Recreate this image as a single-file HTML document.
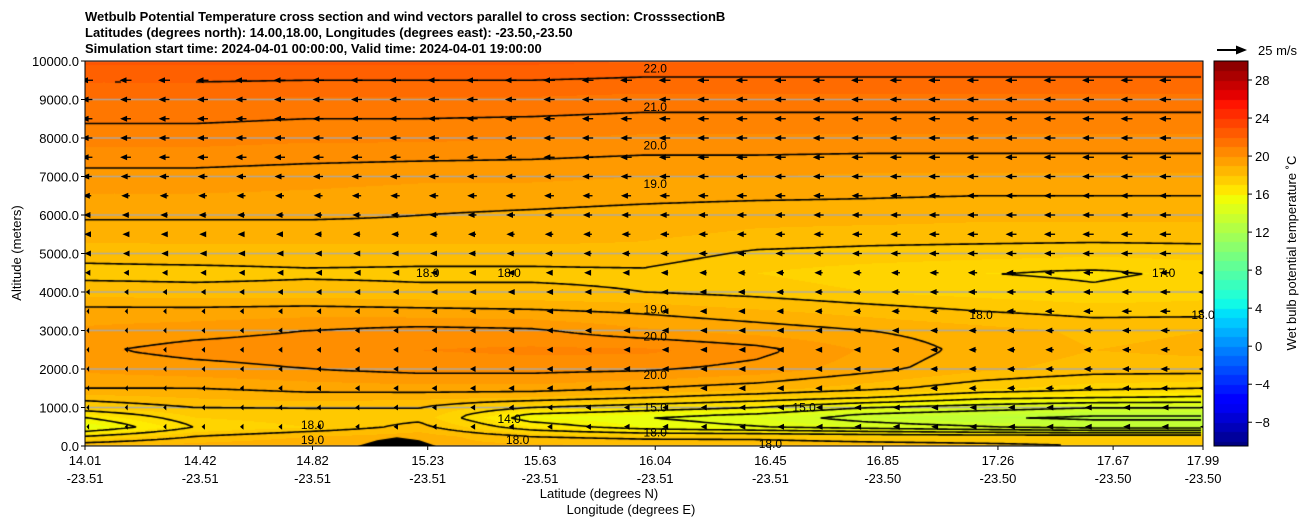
<!DOCTYPE html>
<html><head><meta charset="utf-8">
<style>
body{margin:0;background:#fff;width:1311px;height:526px;overflow:hidden;font-family:"Liberation Sans",sans-serif}
#wrap{position:relative;width:1311px;height:526px}
canvas{position:absolute;left:85px;top:61px}
svg{position:absolute;left:0;top:0}
</style></head><body>
<div id="wrap">
<canvas id="field" width="1118" height="385"></canvas>
<canvas id="cbar" width="34" height="385" style="left:1214px;top:61px"></canvas>
<svg id="svg" width="1311" height="526">
<defs><clipPath id="plotclip"><rect x="85" y="61" width="1118" height="385"/></clipPath></defs>
<text x="85" y="21" font-size="13" font-weight="bold">Wetbulb Potential Temperature cross section and wind vectors parallel to cross section: CrosssectionB</text>
<text x="85" y="37" font-size="13" font-weight="bold">Latitudes (degrees north): 14.00,18.00, Longitudes (degrees east): -23.50,-23.50</text>
<text x="85" y="53" font-size="13" font-weight="bold">Simulation start time: 2024-04-01 00:00:00, Valid time: 2024-04-01 19:00:00</text>
<text x="599" y="498" font-size="13" text-anchor="middle">Latitude (degrees N)</text>
<text x="631" y="514" font-size="13" text-anchor="middle">Longitude (degrees E)</text>
<text transform="translate(21,253) rotate(-90)" font-size="13" text-anchor="middle">Altitude (meters)</text>
<text transform="translate(1296,253) rotate(-90)" font-size="13" text-anchor="middle">Wet bulb potential temperature ˚C</text>
<g><line x1="1217" y1="50" x2="1238" y2="50" stroke="#000" stroke-width="2"/><polygon points="1247,50 1236,45.5 1236,54.5" fill="#000"/><text x="1258" y="55" font-size="13">25 m/s</text></g>
</svg>
</div>
<script>
// ---- data ----
const lats=[14.0,14.4,14.8,15.2,15.6,16.0,16.4,16.8,17.2,17.6,18.0];
const alts=[0,250,500,750,1000,1250,1500,2000,2500,3000,3500,4000,4500,5000,5500,6000,7000,8000,9000,10000];
const temps=[
[18.5,18.8,19.0,18.6,18.7,18.5,18.4,18.3,18.2,18.0,18.0],
[17.0,18.0,18.5,18.8,18.0,17.8,17.8,17.6,17.5,17.5,17.5],
[15.0,17.0,17.5,18.2,16.5,15.5,15.0,14.5,14.0,13.5,13.5],
[16.0,17.5,17.8,17.8,15.5,15.0,14.5,13.5,13.0,12.8,12.8],
[17.5,18.0,18.0,18.0,17.0,16.5,16.0,15.0,14.5,14.0,14.0],
[18.2,18.5,18.7,18.6,18.4,18.0,17.5,17.0,16.2,16.0,15.8],
[19.0,19.0,19.2,19.3,19.3,19.0,18.7,18.2,17.6,17.2,17.0],
[19.6,19.8,20.0,20.2,20.2,20.1,19.8,19.2,18.6,18.3,18.3],
[19.9,20.2,20.3,20.5,20.6,20.6,20.2,19.4,18.8,18.5,18.6],
[19.6,19.8,20.0,20.2,20.1,19.6,19.3,19.0,18.7,18.4,18.5],
[19.2,19.2,19.3,19.2,19.1,18.9,18.6,18.3,18.0,17.8,17.8],
[18.3,18.2,18.2,18.1,18.1,18.0,17.8,17.5,17.3,17.1,17.3],
[17.8,17.8,17.9,17.9,17.9,17.9,17.5,17.2,17.0,16.9,17.1],
[18.2,18.3,18.3,18.2,18.2,18.3,17.9,17.8,17.7,17.6,17.7],
[18.7,18.7,18.7,18.8,18.8,18.6,18.4,18.3,18.3,18.3,18.3],
[19.1,19.1,19.1,19.0,18.9,18.8,18.7,18.7,18.6,18.6,18.6],
[19.8,19.8,19.7,19.6,19.6,19.5,19.5,19.4,19.4,19.4,19.4],
[20.7,20.7,20.6,20.6,20.5,20.4,20.4,20.4,20.4,20.4,20.4],
[21.5,21.5,21.4,21.4,21.4,21.3,21.3,21.3,21.3,21.3,21.3],
[22.6,22.6,22.6,22.6,22.6,22.5,22.5,22.5,22.5,22.5,22.5]];
const levels=[13,14,15,16,17,18,19,20,21,22];
const xTickLats=[14.01,14.42,14.82,15.23,15.63,16.04,16.45,16.85,17.26,17.67,17.99];
const xTickLons=["-23.51","-23.51","-23.51","-23.51","-23.51","-23.51","-23.51","-23.50","-23.50","-23.50","-23.50"];
const yTicks=[0,1000,2000,3000,4000,5000,6000,7000,8000,9000,10000];
const cbTicks=[-8,-4,0,4,8,12,16,20,24,28];
const windAlts=[500,1000,1500,2000,2500,3000,3500,4000,4500,5000,5500,6000,6500,7000,7500,8000,8500,9000,9500];
const windLeft=[-1,-1,-1,-1,-1,-1,-1,-2,-3,-4,-5,-6,-7,-8,-9,-9,-9,-9,-10];
const windRight=[-6,-6,-8,-8,-8,-8,-9,-9,-9,-10,-10,-10,-10,-10,-10,-10,-10,-10,-10];
const terrainLats=[14.98,15.05,15.12,15.20,15.26];
const terrainAlts=[0,150,230,150,0];
const labels=[["22.0",16.04,9800],["21.0",16.04,8800],["20.0",16.04,7800],["19.0",16.04,6800],["18.0",15.23,4500],["18.0",15.52,4500],["19.0",16.04,3550],["20.0",16.04,2850],["20.0",16.04,1850],["15.0",16.04,1000],["15.0",16.57,1000],["14.0",15.52,700],["18.0",16.04,350],["18.0",17.99,3400],["18.0",17.2,3400],["17.0",17.85,4500],["19.0",14.82,150],["18.0",14.82,550],["18.0",15.55,150],["18.0",16.45,50]];
// ---- scales ----
const X0=85,X1=1203,Y0=446,Y1=61;
const xs=l=>X0+(l-14.01)/(17.99-14.01)*(X1-X0);
const ys=a=>Y0-a/10000*(Y0-Y1);
const CBMIN=-10.5,CBMAX=30;
const cby=v=>446-(v-CBMIN)/(CBMAX-CBMIN)*385;
function seg(pts,t){for(let i=1;i<pts.length;i++)if(t<=pts[i][0]){const a=pts[i-1],b=pts[i];return a[1]+(b[1]-a[1])*(t-a[0])/(b[0]-a[0]);}return pts[pts.length-1][1];}
function jet(v){const t=Math.max(0,Math.min(1,(v-CBMIN)/(CBMAX-CBMIN)));
return [seg([[0,0],[0.35,0],[0.66,1],[0.89,1],[1,0.5]],t),seg([[0,0],[0.125,0],[0.375,1],[0.64,1],[0.91,0],[1,0]],t),seg([[0,0.5],[0.11,1],[0.34,1],[0.65,0],[1,0]],t)].map(c=>Math.round(c*255));}
function idx(arr,v){for(let i=0;i<arr.length-1;i++)if(v<=arr[i+1])return [i,(v-arr[i])/(arr[i+1]-arr[i])];return [arr.length-2,1];}
function val(lat,alt){const [i,fx]=idx(lats,lat),[j,fy]=idx(alts,alt);
const a=temps[j][i],b=temps[j][i+1],c=temps[j+1][i],d=temps[j+1][i+1];
return a*(1-fx)*(1-fy)+b*fx*(1-fy)+c*(1-fx)*fy+d*fx*fy;}
const invx=px=>14.01+(px/(X1-X0))*(17.99-14.01);
const inva=py=>(385-py)/385*10000;
const cv=document.getElementById('field'),ctx=cv.getContext('2d');
const W=1118,H=385,img=ctx.createImageData(W,H);
const grid=[];
for(let y=0;y<H;y++){const row=[];for(let x=0;x<W;x++){const v=val(invx(x),inva(y));row.push(v);
const q=Math.floor(v*2)/2+0.25;const c=jet(q);const k=(y*W+x)*4;img.data[k]=c[0];img.data[k+1]=c[1];img.data[k+2]=c[2];img.data[k+3]=255;}grid.push(row);}
ctx.putImageData(img,0,0);
ctx.strokeStyle='rgba(170,170,170,0.9)';ctx.lineWidth=1.5;
yTicks.forEach(t=>{const y=ys(t)-Y1;ctx.beginPath();ctx.moveTo(0,y);ctx.lineTo(W,y);ctx.stroke();});
ctx.strokeStyle='#000';ctx.lineWidth=1.6;ctx.beginPath();
const S=3;
levels.forEach(L=>{for(let y=0;y+S<H;y+=S)for(let x=0;x+S<W;x+=S){
const a=grid[y][x],b=grid[y][x+S],c=grid[y+S][x+S],d=grid[y+S][x];
const e=[];const it=(p,q,x1,y1,x2,y2)=>{if((p-L)*(q-L)<0){const t=(L-p)/(q-p);e.push([x1+(x2-x1)*t,y1+(y2-y1)*t]);}};
it(a,b,x,y,x+S,y);it(b,c,x+S,y,x+S,y+S);it(d,c,x,y+S,x+S,y+S);it(a,d,x,y,x,y+S);
for(let k=0;k+1<e.length;k+=2){ctx.moveTo(e[k][0],e[k][1]);ctx.lineTo(e[k+1][0],e[k+1][1]);}}});
ctx.stroke();
ctx.fillStyle='#000';ctx.beginPath();ctx.moveTo(xs(terrainLats[0])-X0,ys(terrainAlts[0])-Y1);
terrainLats.forEach((l,i)=>ctx.lineTo(xs(l)-X0,ys(terrainAlts[i])-Y1));ctx.closePath();ctx.fill();
const cb=document.getElementById('cbar').getContext('2d');
for(let y=0;y<385;y++){const v=CBMIN+(385-y)/385*(CBMAX-CBMIN);const q=Math.floor(v)+0.5;const c=jet(q);cb.fillStyle=`rgb(${c})`;cb.fillRect(0,y,34,1);}
const svg=document.getElementById('svg'),NS='http://www.w3.org/2000/svg';
function mk(tag,at,parent){const e=document.createElementNS(NS,tag);for(const k in at)e.setAttribute(k,at[k]);(parent||svg).appendChild(e);return e;}
const wg=mk('g',{'clip-path':'url(#plotclip)'});


const nCols=30;
windAlts.forEach((a,r)=>{for(let c=0;c<nCols;c++){const f=c/(nCols-1);const u=windLeft[r]*(1-f)+windRight[r]*f;
const len=Math.abs(u)/25*30;const x=X0+2+c*38.5+len*0.5,y=ys(a);if(x>X1+6)continue;
const p=mk('polygon',{points:`${x-len},${y} ${x-len+Math.min(7,len+1.5)},${y-3} ${x-len+Math.min(7,len+1.5)},${y+3}`,fill:'#000'},wg);


if(len>7)mk('line',{x1:x-len+6,y1:y,x2:x,y2:y,stroke:'#000','stroke-width':1.3},wg);}});
labels.forEach(l=>{const x=xs(l[1]),y=ys(l[2]);const t=mk('text',{x:x,y:y+4,'font-size':12,'text-anchor':'middle',fill:'#000'});t.textContent=l[0];

});
const fr=mk('rect',{x:X0,y:Y1,width:X1-X0,height:Y0-Y1,fill:'none',stroke:'#000','stroke-width':1});


const cbf=mk('rect',{x:1214,y:61,width:34,height:385,fill:'none',stroke:'#000','stroke-width':1});


xTickLats.forEach((l,i)=>{const x=xs(l);mk('line',{x1:x,y1:Y0,x2:x,y2:Y0+4,stroke:'#000'});
const t=mk('text',{x:x,y:Y0+19,'font-size':13,'text-anchor':'middle'});t.textContent=l.toFixed(2);


const t2=mk('text',{x:x,y:Y0+37,'font-size':13,'text-anchor':'middle'});t2.textContent=xTickLons[i];

});
yTicks.forEach(v=>{const y=ys(v);mk('line',{x1:X0-4,y1:y,x2:X0,y2:y,stroke:'#000'});
const t=mk('text',{x:X0-6,y:y+5,'font-size':13,'text-anchor':'end'});t.textContent=v.toFixed(1);

});
cbTicks.forEach(v=>{const y=cby(v);mk('line',{x1:1248,y1:y,x2:1252,y2:y,stroke:'#000'});
const t=mk('text',{x:1255,y:y+5,'font-size':13});t.textContent=v<0?'\u2212'+Math.abs(v):String(v);

});
</script>
</body></html>
